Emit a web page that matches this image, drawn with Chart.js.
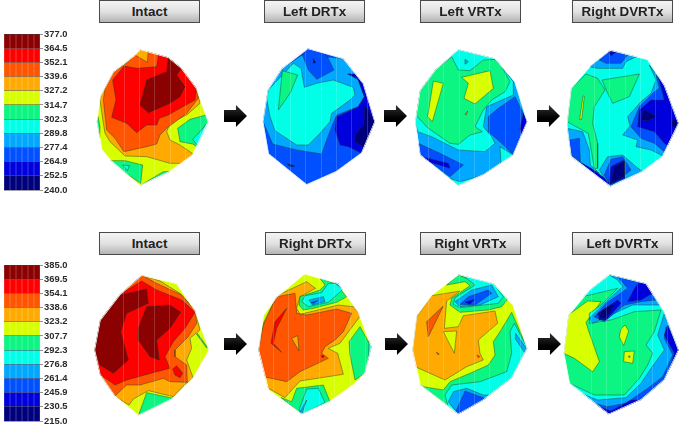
<!DOCTYPE html>
<html><head><meta charset="utf-8">
<script src="https://cdn.jsdelivr.net/npm/chart.js@4"></script>
<style>
html,body{margin:0;padding:0;background:#fff;width:681px;height:428px;overflow:hidden}
canvas{position:absolute;filter:blur(.35px)}
.title{position:absolute;box-sizing:border-box;height:23px;width:101px;border:1px solid #4a4a4a;
 background:linear-gradient(#f4f4f4,#e2e2e2 50%,#b4b4b4);font:bold 13.4px "Liberation Sans",Arial,sans-serif;color:#222;
 text-align:center;line-height:21px;white-space:nowrap}
.arrow{position:absolute;width:23px;height:22px;background:linear-gradient(#333,#000 60%);filter:blur(.5px);
 clip-path:polygon(0 23%,52% 23%,52% 0,100% 50%,52% 100%,52% 77%,0 77%)}
</style></head><body>
<script>
// Contour band colours, lowest band first
const bandColors=['#00007c','#0000dc','#0050ff','#00a8ff','#00ffe6','#0cf583','#d8ff00','#ffaa00','#ff5500','#ff0000','#8b0000'];
const lineColor='rgba(20,50,40,.7)';

// Colour-scale tick labels
const scaleTop=[240.0,252.5,264.9,277.4,289.8,302.3,314.7,327.2,339.6,352.1,364.5,377.0];
const scaleBottom=[215.0,230.5,245.9,261.4,276.8,292.3,307.7,323.2,338.6,354.1,369.5,385.0];

// Panel titles
const titlesTop=['Intact','Left DRTx','Left VRTx','Right DVRTx'];
const titlesBottom=['Intact','Right DRTx','Right VRTx','Left DVRTx'];

// Map outlines and contour regions in map units; each region is [band, x,y, x,y, ...], painted in order
const intactA=[[6, 420,148,505,172,545,205,590,265,625,365,578,465,510,515,420,558,330,480,305,450,290,365,300,290,340,215,405,165],
[5, 294,350,290,368,299,412,300,380],
[7, 300,300,310,370,315,400,330,425,375,468,440,470,510,490,550,490,580,462,540,435,510,420,500,395,510,370,560,345,600,310,590,265,545,205,505,172,420,148,405,165,340,215,305,280],
[8, 405,165,442,187,445,151,472,162,505,172,545,205,590,265,595,295,560,340,500,385,480,405,470,432,440,440,372,455,345,415,320,390,315,345,310,300,315,265,340,215,372,195],
[9, 475,165,505,172,545,205,590,265,585,300,540,325,505,345,478,355,470,375,440,375,410,398,380,370,335,352,348,300,338,240,372,198,410,205,470,200],
[10, 505,172,545,205,530,225,555,260,540,290,510,310,445,338,420,315,440,240,500,215],
[5, 533,385,570,358,618,345,625,365,598,445,578,432,540,425],
[4, 600,395,625,365,598,445,578,418],
[5, 330,482,375,482,428,495,422,550,355,505],
[5, 428,552,490,515,510,515,420,558],
[4, 368,495,388,497,382,513]];

const leftDRTx=[[2, 248,145,355,175,415,250,450,365,410,460,335,515,245,555,130,462,113,365,128,270,170,205],
[3, 113,362,128,270,170,205,232,165,355,175,395,225,370,222,400,240,418,290,400,320,335,345,320,380,305,420,290,462,215,450,143,432],
[1, 390,222,415,250,450,365,410,460,370,440,345,435,330,390,335,350,400,320,418,290,398,235,368,222],
[0, 420,315,450,365,420,445,390,425,390,405,415,375],
[2, 248,145,305,165,327,210,275,238,250,210,232,165],
[4, 130,270,205,190,228,205,238,262,275,250,325,240,385,262,390,285,375,300,320,340,315,365,285,400,250,435,215,435,150,392,135,350,125,295],
[5, 172,212,218,225,195,280,160,330],
[0, 265,175,272,188,264,190],
[0, 185,491,210,498,198,500]];

const leftVRTx=[[3, 190,148,300,175,360,245,397,365,355,465,265,525,190,558,75,465,60,365,75,270,120,210],
[4, 60,365,68,395,110,410,190,450,270,455,300,430,290,410,265,380,275,320,355,285,355,245,300,175,190,148,120,210,75,270],
[5, 75,270,120,210,170,170,190,210,225,212,265,180,300,178,320,200,345,245,330,275,290,300,265,330,240,380,262,395,225,405,190,433,165,430,100,385,62,345],
[6, 115,243,145,250,112,365,98,350],
[6, 200,232,285,212,295,265,240,312,207,295,220,250],
[7, 210,343,218,333,214,345],
[3, 210,178,220,185,212,192],
[2, 360,290,397,365,355,465,320,430,280,395,280,350,310,325],
[1, 385,340,397,365,380,405,375,385],
[2, 75,465,70,430,135,460,205,495,165,530],
[1, 80,470,160,490,165,505,100,485],
[4, 315,440,355,465,265,525,190,558,165,535,195,545,260,527,318,492]];

const rightDVRTx=[[4, 478,150,590,178,640,255,683,370,635,470,575,515,478,560,360,470,347,375,360,265,420,195],
[5, 360,265,405,222,440,235,462,270,430,320,425,370,440,430,440,505,430,505,412,400,348,365],
[5, 453,240,565,222,535,290,485,310,470,280],
[6, 400,288,392,358,386,358,396,288],
[3, 415,200,478,150,560,168,525,185,515,205,440,205],
[2, 445,180,478,150,530,165,510,190,465,190],
[1, 472,156,495,156,480,168],
[3, 595,195,640,255,683,370,636,468,600,450,555,440,560,420,515,405,537,378,530,350,570,305,600,280,615,240],
[2, 615,225,640,255,683,370,640,455,610,430,570,415,540,380,565,320,605,280,625,265],
[1, 620,225,640,255,683,370,655,440,640,430,610,395,560,380,565,330,600,300,640,300],
[0, 578,328,617,350,590,362,570,360],
[0, 668,355,683,370,672,385,662,375],
[3, 348,385,395,395,415,450,418,495,445,520,362,475],
[2, 355,420,385,415,388,485,360,465],
[1, 362,470,478,560,470,540,420,505,385,485],
[3, 445,510,470,470,515,465,555,500,575,515,478,560],
[2, 460,525,480,478,515,470,540,510,478,560],
[1, 472,555,480,500,518,480,522,535],
[0, 478,550,490,500,520,484,520,530]];

const intactB=[[6, 425,150,530,175,585,255,628,375,580,460,520,520,415,572,345,515,300,450,283,375,300,285,360,208],
[5, 440,503,520,520,415,572],
[5, 592,325,622,367,620,369,590,328],
[7, 425,150,480,168,540,205,585,255,600,315,570,340,575,370,560,405,580,460,555,478,520,515,445,497,400,522,387,540,345,515,300,450,283,375,300,285,360,208],
[8, 360,208,425,150,470,175,545,210,585,255,590,295,565,335,525,375,525,395,560,420,562,472,510,470,490,460,420,480,380,480,345,513,300,450,283,375,300,285],
[9, 360,208,425,168,470,195,545,225,585,262,555,310,520,350,495,395,510,430,470,440,380,465,345,480,300,448,283,375,300,285],
[9, 518,432,530,422,548,445,540,458,525,450],
[10, 360,210,440,192,445,235,380,265,362,320,385,405,340,445,300,420,285,375,300,290],
[10, 440,245,510,240,542,262,510,310,470,345,478,405,450,395,415,345,415,310]];

const rightDRTx=[[6, 238,146,340,175,400,260,440,365,420,445,385,480,315,530,230,568,130,495,100,375,115,270,155,215],
[7, 155,212,245,170,272,190,225,215,215,250,225,268,340,240,385,245,408,270,345,355,310,370,338,385,355,448,225,468,205,490,180,518,130,490,108,455,100,375,115,295],
[8, 155,215,210,205,215,265,245,270,335,252,380,265,355,320,330,345,300,365,290,385,310,400,225,440,185,470,115,455,100,375,115,300],
[9, 185,250,150,290,138,355,170,382,145,355,155,310],
[9, 288,392,296,392,294,398],
[7, 200,340,218,332,222,378],
[5, 222,240,225,215,285,195,300,180,285,160,330,175,365,215,335,232,265,250,235,255],
[4, 230,230,240,212,290,203,310,175,340,175,352,195,310,232,250,245],
[3, 252,225,295,215,300,230,262,240],
[2, 258,232,280,226,265,236],
[3, 325,170,340,175,352,192],
[5, 405,305,430,350,440,365,420,445,390,465,375,390,372,350],
[4, 432,345,440,365,430,410],
[5, 168,518,200,530,215,490,295,480,315,530,230,568],
[4, 222,555,245,492,280,490,300,533,230,568],
[3, 224,562,245,525,230,568]];

const rightVRTx=[[6, 190,148,295,175,355,240,397,370,350,460,265,525,190,568,75,480,52,375,65,270,110,210],
[7, 65,275,110,212,195,198,155,228,148,310,190,305,205,272,300,258,308,295,250,345,255,385,265,405,215,425,150,465,60,425,52,375],
[6, 145,320,185,318,178,385],
[8, 145,243,95,290,100,335],
[8, 124,382,132,386,130,390],
[8, 246,390,254,394,250,399],
[5, 190,150,245,170,300,180,340,220,320,245,280,255,195,262,165,240,170,220,225,182,210,170,155,180],
[4, 190,148,295,175,325,215,310,235,195,248,175,238,180,218,240,180,215,160],
[3, 180,230,230,195,290,180,310,215,255,240,195,245],
[2, 195,238,220,215,280,195,290,205,240,240],
[1, 210,232,240,222,225,238],
[5, 350,262,397,370,350,460,265,525,190,568,75,480,85,485,145,495,165,470,225,445,280,420,300,390,295,350,315,320],
[4, 358,295,397,370,350,460,265,525,190,568,160,548,150,510,170,480,255,470,335,440,350,385,345,320],
[3, 362,325,397,375,390,385,360,340],
[3, 160,530,175,500,215,490,265,510,290,510,190,568],
[2, 180,565,210,498,275,522,190,568]];

const leftDVRTx=[[5, 475,148,585,175,640,260,683,375,640,465,570,525,473,568,355,475,338,385,352,270,415,195],
[6, 352,270,410,228,450,230,405,292,412,315,445,410,425,440,370,400,338,385],
[6, 510,312,522,300,533,318,518,362,505,335],
[6, 520,380,550,378,545,415,518,410],
[7, 532,393,538,393,535,399],
[4, 415,195,475,148,585,175,640,260,683,375,640,465,570,525,473,568,385,500,355,475,430,510,520,510,565,460,590,420,605,385,585,360,610,320,630,255,550,260,480,285,415,295,415,265,450,240,500,190,395,215],
[3, 475,150,585,175,632,240,600,240,545,240,480,270,425,295,415,280,470,225,515,185,500,165],
[2, 500,155,585,178,615,225,570,230,520,240,460,290,430,275,465,235,530,190],
[1, 560,175,585,175,605,205,570,225,530,230,545,200],
[1, 440,265,500,225,510,235,465,285,445,285],
[0, 445,280,450,258,480,240,490,240,465,280],
[3, 640,265,683,375,640,465,570,525,473,568,385,503,440,525,525,518,570,475,600,430,640,375,620,330],
[2, 645,305,683,375,640,465,570,525,473,568,430,535,470,545,525,535,590,490,635,455,665,390,640,340],
[1, 650,300,683,375,655,440,670,385,640,330],
[1, 473,568,432,540,480,558,540,525,570,525]];

// Layout helpers
function region(r,opts){
  const pts=[];
  for(let i=1;i<r.length;i+=2)pts.push({x:r[i],y:r[i+1]});
  pts.push({x:r[1],y:r[2]});
  return Object.assign({data:pts,showLine:true,tension:0,pointRadius:0,fill:'shape',
    backgroundColor:bandColors[r[0]],borderColor:lineColor,borderWidth:.6},opts||{});
}
function addCanvas(left,top,w,h){
  const c=document.createElement('canvas');
  c.width=w;c.height=h;c.style.cssText=`left:${left}px;top:${top}px;width:${w}px;height:${h}px`;
  document.body.appendChild(c);return c;
}
function drawMap(regions,left,top,w,h,gridStart){
  const outline=regions[0];
  const ds=regions.map((r,i)=>region(r,i===0?{borderWidth:0}:{}));
  ds.push(region(outline,{fill:false,borderColor:'#fff',borderWidth:1.4}));
  ds.reverse(); // Chart.js paints the first dataset last
  const clipPlugin={id:'clipOutline',
    beforeDatasetsDraw(ch){
      const xs=ch.scales.x,ys=ch.scales.y,ctx=ch.ctx;
      ctx.save();ctx.beginPath();
      for(let i=1;i<outline.length;i+=2){
        const px=xs.getPixelForValue(outline[i]),py=ys.getPixelForValue(outline[i+1]);
        i===1?ctx.moveTo(px,py):ctx.lineTo(px,py);
      }
      ctx.closePath();ctx.clip();
    },
    afterDatasetsDraw(ch){ch.ctx.restore();}
  };
  new Chart(addCanvas(left,top,w,h),{type:'scatter',data:{datasets:ds},plugins:[clipPlugin],
    options:{responsive:false,animation:false,events:[],layout:{padding:0},
      plugins:{legend:{display:false},tooltip:{enabled:false}},
      scales:{
        x:{type:'linear',min:0,max:w*3,border:{display:false},
          ticks:{display:false},
          afterBuildTicks(s){const t=[];for(let v=gridStart;v<w*3;v+=46)t.push({value:v});s.ticks=t;},
          grid:{z:1,drawTicks:false,color:'rgba(255,255,255,.17)',lineWidth:1}},
        y:{type:'linear',min:0,max:h*3,reverse:true,display:false}
      }}});
}
function drawScale(values,top){
  const cells=['a','b','c','d','e','f'];
  const ds=[];
  for(let i=0;i<values.length-1;i++){
    ds.push({data:cells.map(()=>[values[i],values[i+1]]),backgroundColor:bandColors[i],
      categoryPercentage:1,barPercentage:.96,grouped:false});
  }
  new Chart(addCanvas(0,top,78,176),{type:'bar',data:{labels:cells,datasets:ds},
    options:{responsive:false,animation:false,events:[],
      layout:{padding:{left:4,top:10,bottom:10,right:0}},
      plugins:{legend:{display:false},tooltip:{enabled:false}},
      scales:{
        x:{display:false},
        y:{position:'right',min:values[0],max:values[values.length-1],
          afterFit(s){s.width=38;},
          afterBuildTicks(s){s.ticks=values.map(v=>({value:v}));},
          border:{display:false},
          grid:{z:1,color:'rgba(60,60,70,.6)',lineWidth:.8,tickLength:3,tickColor:'#777'},
          ticks:{autoSkip:false,padding:1,color:'#2a2a2a',align:'center',
            font:{family:'"Liberation Sans"',weight:'bold',size:9.4},
            callback:v=>v.toFixed(1)}}
      }}});
}
function addTitle(text,left,top){
  const d=document.createElement('div');d.className='title';d.textContent=text;
  d.style.left=left+'px';d.style.top=top+'px';document.body.appendChild(d);
}
function addArrow(left,top){
  const d=document.createElement('div');d.className='arrow';
  d.style.left=left+'px';d.style.top=top+'px';document.body.appendChild(d);
}

drawScale(scaleTop,24);
drawScale(scaleBottom,255);

drawMap(intactA,0,0,230,200,372);
drawMap(leftDRTx,225,0,230,200,150);
drawMap(leftVRTx,395,0,140,200,100);
drawMap(rightDVRTx,451,0,230,200,430);
drawMap(intactB,0,225,230,203,370);
drawMap(rightDRTx,225,225,230,203,145);
drawMap(rightVRTx,395,225,140,203,100);
drawMap(leftDVRTx,451,225,230,203,420);

[99,264,420,572].forEach((x,i)=>addTitle(titlesTop[i],x,0));
[99,265,420,572].forEach((x,i)=>addTitle(titlesBottom[i],x,232));
[224,384,537].forEach(x=>addArrow(x,105));
[224,385,538].forEach(x=>addArrow(x,333));
</script>
</body></html>
